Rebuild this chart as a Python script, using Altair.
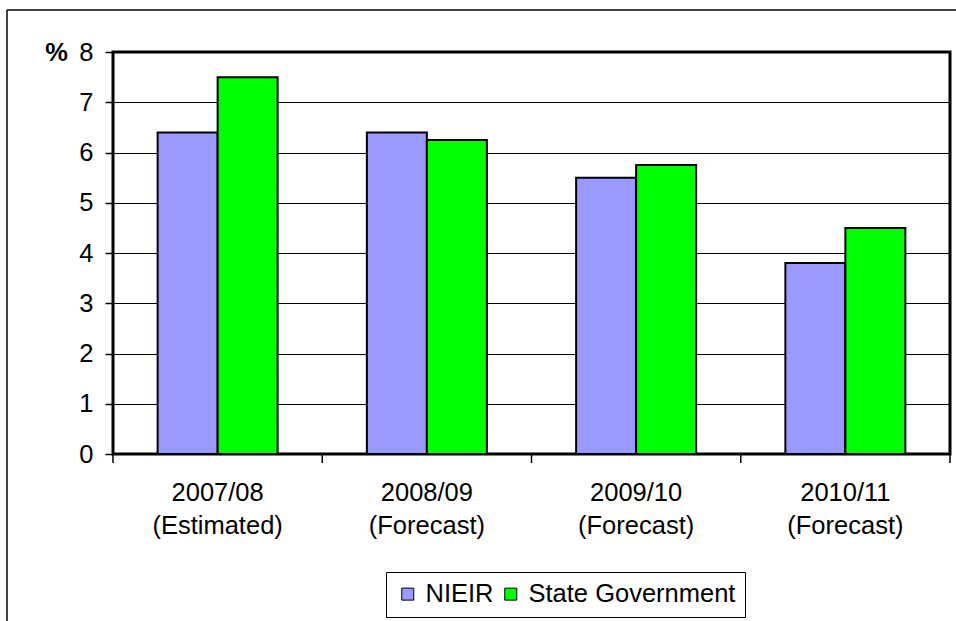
import altair as alt
import pandas as pd

categories = ["2007/08 (Estimated)", "2008/09 (Forecast)", "2009/10 (Forecast)", "2010/11 (Forecast)"]
series = ["NIEIR", "State Government"]
nieir = [6.4, 6.4, 5.5, 3.8]
state = [7.5, 6.25, 5.75, 4.5]
colors = ["#9999FF", "#00FF00"]
y_ticks = [0, 1, 2, 3, 4, 5, 6, 7, 8]
boundaries = [0, 1, 2, 3, 4]

rows = []
for c, a, b in zip(categories, nieir, state):
    rows.append({"period": c, "series": series[0], "value": a})
    rows.append({"period": c, "series": series[1], "value": b})
df = pd.DataFrame(rows)

FONT = "Liberation Sans"
FS = 25.5

bars = alt.Chart(df).mark_bar(stroke="black", strokeWidth=2, opacity=1, fillOpacity=1).encode(
    x=alt.X(
        "period:N",
        sort=categories,
        scale=alt.Scale(paddingInner=0.4265, paddingOuter=0.2133),
        axis=alt.Axis(
            title=None, labelAngle=0, labelExpr="split(datum.label, ' ')",
            labelFontSize=FS, labelColor="black", labelFont=FONT,
            ticks=False, domain=False, labelPadding=26, labelLineHeight=33,
            labelBaseline="top", labelLimit=400,
        ),
    ),
    xOffset=alt.XOffset("series:N", sort=series, scale=alt.Scale(paddingInner=0, paddingOuter=0)),
    y=alt.Y(
        "value:Q",
        scale=alt.Scale(domain=[0, 8], nice=False),
        axis=alt.Axis(
            values=y_ticks, title="%", titleAngle=0, titleX=-57, titleY=0,
            titleBaseline="middle", titleAlign="center", titleFontSize=FS,
            titleFontWeight="bold", titleFont=FONT, titleColor="black",
            grid=True, gridColor="black", gridWidth=1,
            tickSize=8, tickColor="black", tickWidth=1.5,
            labelFontSize=FS, labelPadding=12, labelColor="black", labelFont=FONT,
            domain=False,
        ),
    ),
    color=alt.Color(
        "series:N",
        sort=series,
        scale=alt.Scale(domain=series, range=colors),
        legend=alt.Legend(
            orient="none", legendX=273, legendY=520, direction="horizontal",
            title=None, strokeColor="black", padding=9,
            symbolType="square", symbolSize=144, symbolStrokeColor="black",
            symbolStrokeWidth=1, symbolOpacity=1, labelFontSize=FS, labelFont=FONT,
            labelColor="black", labelOffset=5, columnPadding=4, labelLimit=400,
        ),
    ),
)

xticks = alt.Chart(pd.DataFrame({"b": boundaries})).mark_rule(color="black", strokeWidth=1.5).encode(
    x=alt.X("b:Q", scale=alt.Scale(domain=[0, 4], nice=False, zero=False), axis=None),
    y=alt.value(402),
    y2=alt.value(411),
)

frame_v = alt.Chart(alt.Data(values=[{}])).mark_rule(color="black", strokeWidth=1.5).encode(
    x=alt.value(-106), y=alt.value(-42), y2=alt.value(620)
)
frame_h = alt.Chart(alt.Data(values=[{}])).mark_rule(color="black", strokeWidth=1.5).encode(
    x=alt.value(-106), x2=alt.value(900), y=alt.value(-42)
)

chart = alt.layer(bars, xticks, frame_v, frame_h).resolve_scale(x="independent").properties(
    width=837,
    height=402,
    padding={"left": 113, "top": 52, "right": 6, "bottom": 167},
    autosize="none",
    background="white",
).configure(font=FONT).configure_view(stroke="black", strokeWidth=3)

chart.save("out.html", embed_options={"renderer": "svg", "actions": False})
